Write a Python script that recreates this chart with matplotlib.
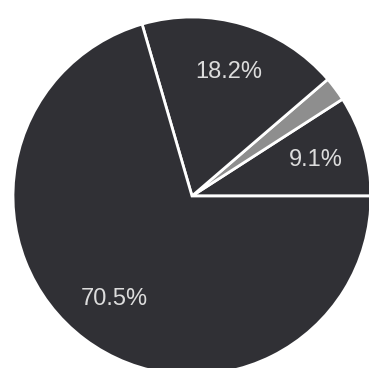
import matplotlib
matplotlib.use("Agg")
import matplotlib.pyplot as plt

# slice values, counter-clockwise from 3 o'clock
values = [9.1, 2.2, 18.2, 70.5]
labels = ["9.1%", "", "18.2%", "70.5%"]
colors = ["#303035", "#8e8e8e", "#303035", "#303035"]

plt.rcParams['font.family'] = ['Liberation Sans', 'DejaVu Sans']

fig = plt.figure(figsize=(3.69, 3.68), dpi=100)
ax = fig.add_axes([0, 0, 1, 1])

wedges, texts = ax.pie(values, colors=colors, startangle=0, counterclock=True,
                       center=(192, 172), radius=179,
                       wedgeprops=dict(edgecolor="white", linewidth=2),
                       labels=labels, labeldistance=0.72,
                       textprops=dict(color="#dcdcdc", fontsize=17))
for t in texts:
    t.set_ha("center")
    t.set_va("center")

ax.set_xlim(0, 369)
ax.set_ylim(0, 368)
ax.set_aspect("equal")
ax.axis("off")

fig.savefig("out.png", dpi=100)
